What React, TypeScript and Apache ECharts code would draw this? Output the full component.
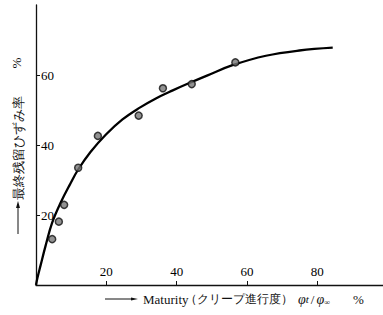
import React, { useEffect, useRef } from "react";
import * as echarts from "echarts";

// Measured points (maturity %, residual strain ratio %)
const pointX = [4.6, 6.5, 8.0, 12.0, 17.6, 29.2, 36.1, 44.3, 56.7];
const pointY = [13.1, 18.1, 22.9, 33.5, 42.6, 48.4, 56.2, 57.4, 63.6];

// Fitted curve
const curveX = [0, 0.4, 1.3, 2.7, 4.6, 7.0, 9.8, 12.0, 15.5, 19.9, 24.6, 29.4, 34.1, 38.9, 43.6, 48.8, 55.9, 65.4, 74.9, 84.4];
const curveY = [0, 2.0, 5.6, 11.1, 17.8, 23.5, 29.0, 33.0, 38.0, 43.0, 47.3, 50.6, 53.3, 55.6, 57.7, 59.9, 62.8, 65.5, 67.0, 67.8];

const xTicks = [20, 40, 60, 80];
const yTicks = [20, 40, 60];

const SERIF = "serif";

export default function App() {
  const ref = useRef<HTMLDivElement>(null);
  useEffect(() => {
    document.body.style.margin = "0";
    if (!ref.current) return;
    const chart = echarts.init(ref.current, undefined, { renderer: "svg" });
    chart.setOption({
      animation: false,
      backgroundColor: "#ffffff",
      textStyle: { fontFamily: SERIF },
      grid: { left: 36, right: 0, top: 5, bottom: 30 },
      xAxis: {
        type: "value",
        min: 0,
        max: 98.7,
        interval: 20,
        splitLine: { show: false },
        axisLine: { lineStyle: { color: "#111", width: 1.3 } },
        axisTick: { inside: true, length: 4, lineStyle: { color: "#111" } },
        axisLabel: {
          inside: true,
          margin: 7,
          color: "#000",
          fontFamily: SERIF,
          fontSize: 13,
          showMinLabel: false,
          showMaxLabel: false,
          formatter: (v: number) => (xTicks.includes(v) ? String(v) : ""),
        },
      },
      yAxis: {
        type: "value",
        min: 0,
        max: 80,
        interval: 20,
        splitLine: { show: false },
        axisLine: { lineStyle: { color: "#111", width: 1.3 } },
        axisTick: { inside: true, length: 4, lineStyle: { color: "#111" } },
        axisLabel: {
          inside: true,
          margin: 5,
          color: "#000",
          fontFamily: SERIF,
          fontSize: 13,
          showMinLabel: false,
          showMaxLabel: false,
          formatter: (v: number) => (yTicks.includes(v) ? String(v) : ""),
        },
      },
      series: [
        {
          type: "line",
          data: curveX.map((x, i) => [x, curveY[i]]),
          smooth: 0.4,
          showSymbol: false,
          lineStyle: { color: "#000", width: 2.3 },
          z: 2,
        },
        {
          type: "scatter",
          data: pointX.map((x, i) => [x, pointY[i]]),
          symbol: "circle",
          symbolSize: 7,
          itemStyle: { color: "#777", borderColor: "#111", borderWidth: 1.5 },
          z: 3,
        },
      ],
      graphic: [
        // y-axis title
        {
          type: "line",
          shape: { x1: 18, y1: 234, x2: 18, y2: 208 },
          style: { stroke: "#111", lineWidth: 1 },
        },
        {
          type: "polygon",
          shape: { points: [[16, 208], [20, 208], [18, 201]] },
          style: { fill: "#111" },
        },
        {
          type: "text",
          x: 18,
          y: 148,
          rotation: Math.PI / 2,
          style: {
            text: "最終残留ひずみ率",
            fontSize: 13,
            fontFamily: SERIF,
            fill: "#111",
            align: "center",
            verticalAlign: "middle",
          },
        },
        {
          type: "text",
          x: 16,
          y: 63,
          rotation: Math.PI / 2,
          style: {
            text: "%",
            fontSize: 13,
            fontFamily: SERIF,
            fill: "#111",
            align: "center",
            verticalAlign: "middle",
          },
        },
        // x-axis title
        {
          type: "line",
          shape: { x1: 105, y1: 299, x2: 132, y2: 299 },
          style: { stroke: "#111", lineWidth: 1 },
        },
        {
          type: "polygon",
          shape: { points: [[131, 297.5], [131, 300.5], [138, 299]] },
          style: { fill: "#111" },
        },
        {
          type: "text",
          x: 143,
          y: 299,
          style: {
            text: "Maturity",
            fontSize: 13,
            fontFamily: SERIF,
            fill: "#111",
            align: "left",
            verticalAlign: "middle",
          },
        },
        {
          type: "text",
          x: 185,
          y: 299,
          style: {
            text: "（クリープ進行度）",
            fontSize: 12,
            fontFamily: SERIF,
            fill: "#111",
            align: "left",
            verticalAlign: "middle",
          },
        },
        {
          type: "text",
          x: 298,
          y: 299,
          style: {
            text: "{a|φ}{b|t}{c|/}{a|φ}{s|∞}",
            fill: "#111",
            align: "left",
            verticalAlign: "middle",
            rich: {
              a: { fontSize: 14, fontStyle: "italic", fontFamily: SERIF, fill: "#111", verticalAlign: "middle" },
              b: { fontSize: 11, fontStyle: "italic", fontFamily: SERIF, fill: "#111", verticalAlign: "middle", padding: [0, 2, 0, 0] },
              c: { fontSize: 13, fontFamily: SERIF, fill: "#111", verticalAlign: "middle", padding: [0, 2, 0, 0] },
              s: { fontSize: 8, fontFamily: SERIF, fill: "#111", verticalAlign: "bottom", padding: [6, 0, 0, 0] },
            },
          },
        },
        {
          type: "text",
          x: 353,
          y: 299,
          style: {
            text: "%",
            fontSize: 13,
            fontFamily: SERIF,
            fill: "#111",
            align: "left",
            verticalAlign: "middle",
          },
        },
      ],
    });
    return () => chart.dispose();
  }, []);
  return <div ref={ref} style={{ width: 383, height: 315 }} />;
}
